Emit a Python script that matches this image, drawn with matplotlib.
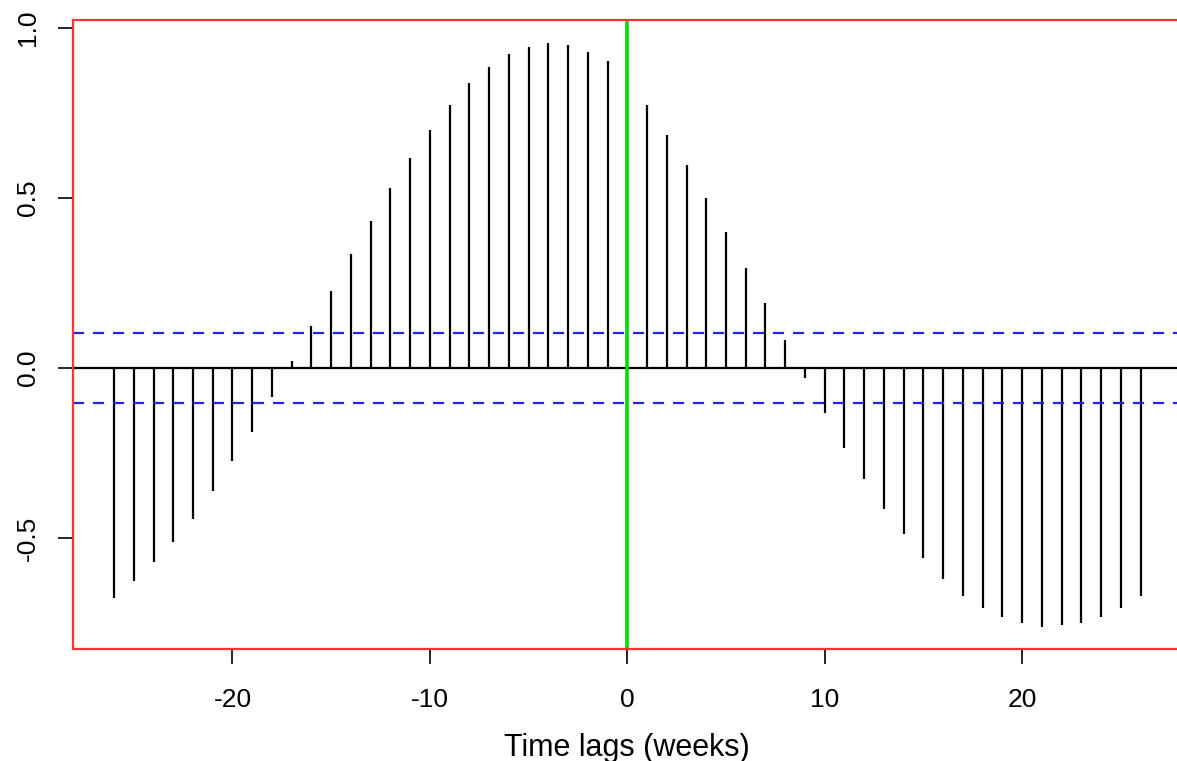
import matplotlib
matplotlib.use('Agg')
import matplotlib.pyplot as plt
import numpy as np

plt.rcParams['font.family'] = ['Liberation Sans', 'DejaVu Sans']

# lags (weeks) and cross-correlation values
lags = np.arange(-26, 27)
ccf = [-0.676, -0.626, -0.571, -0.512, -0.444, -0.362, -0.274, -0.188, -0.085,
       0.020, 0.124, 0.226, 0.335, 0.433, 0.530, 0.617, 0.700, 0.774, 0.840,
       0.886, 0.925, 0.945, 0.955, 0.950, 0.930, 0.903, 0.850,
       0.774, 0.685, 0.597, 0.500, 0.400, 0.295, 0.192, 0.083,
       -0.030, -0.133, -0.235, -0.327, -0.413, -0.489, -0.557, -0.621, -0.671,
       -0.704, -0.733, -0.750, -0.761, -0.756, -0.750, -0.733, -0.704, -0.671]
conf_limit = 0.102
xticks = [-20, -10, 0, 10, 20]
yticks = [-0.5, 0.0, 0.5, 1.0]
ytick_labels = ['-0.5', '0.0', '0.5', '1.0']

fig = plt.figure(figsize=(11.77, 7.61), dpi=100)
ax = fig.add_axes([0.062, 0.1472, 0.9419, 0.8265])

ax.vlines(lags, 0, ccf, color='black', linewidth=1.6)
ax.axhline(0, color='black', linewidth=1.6)
ax.axhline(conf_limit, color='#2222ee', linewidth=1.6, linestyle=(0, (5, 4)))
ax.axhline(-conf_limit, color='#2222ee', linewidth=1.6, linestyle=(0, (5, 4)))
ax.axvline(0, color='#00dd00', linewidth=2.6)

ax.set_xlim(-28.08, 28.08)
ax.set_ylim(-0.826, 1.024)

for s in ax.spines.values():
    s.set_color('#ff3333')
    s.set_linewidth(1.6)

ax.set_xticks(xticks)
ax.set_xticklabels([str(t) for t in xticks])
ax.set_yticks(yticks)
ax.set_yticklabels(ytick_labels, rotation=90, va='center')
ax.tick_params(direction='out', length=11, width=1.2, color='black',
               labelsize=19, pad=13)
ax.tick_params(axis='x', pad=17)

ax.set_xlabel('Time lags (weeks)', fontsize=22, labelpad=15)

fig.savefig('out.png', dpi=100)
